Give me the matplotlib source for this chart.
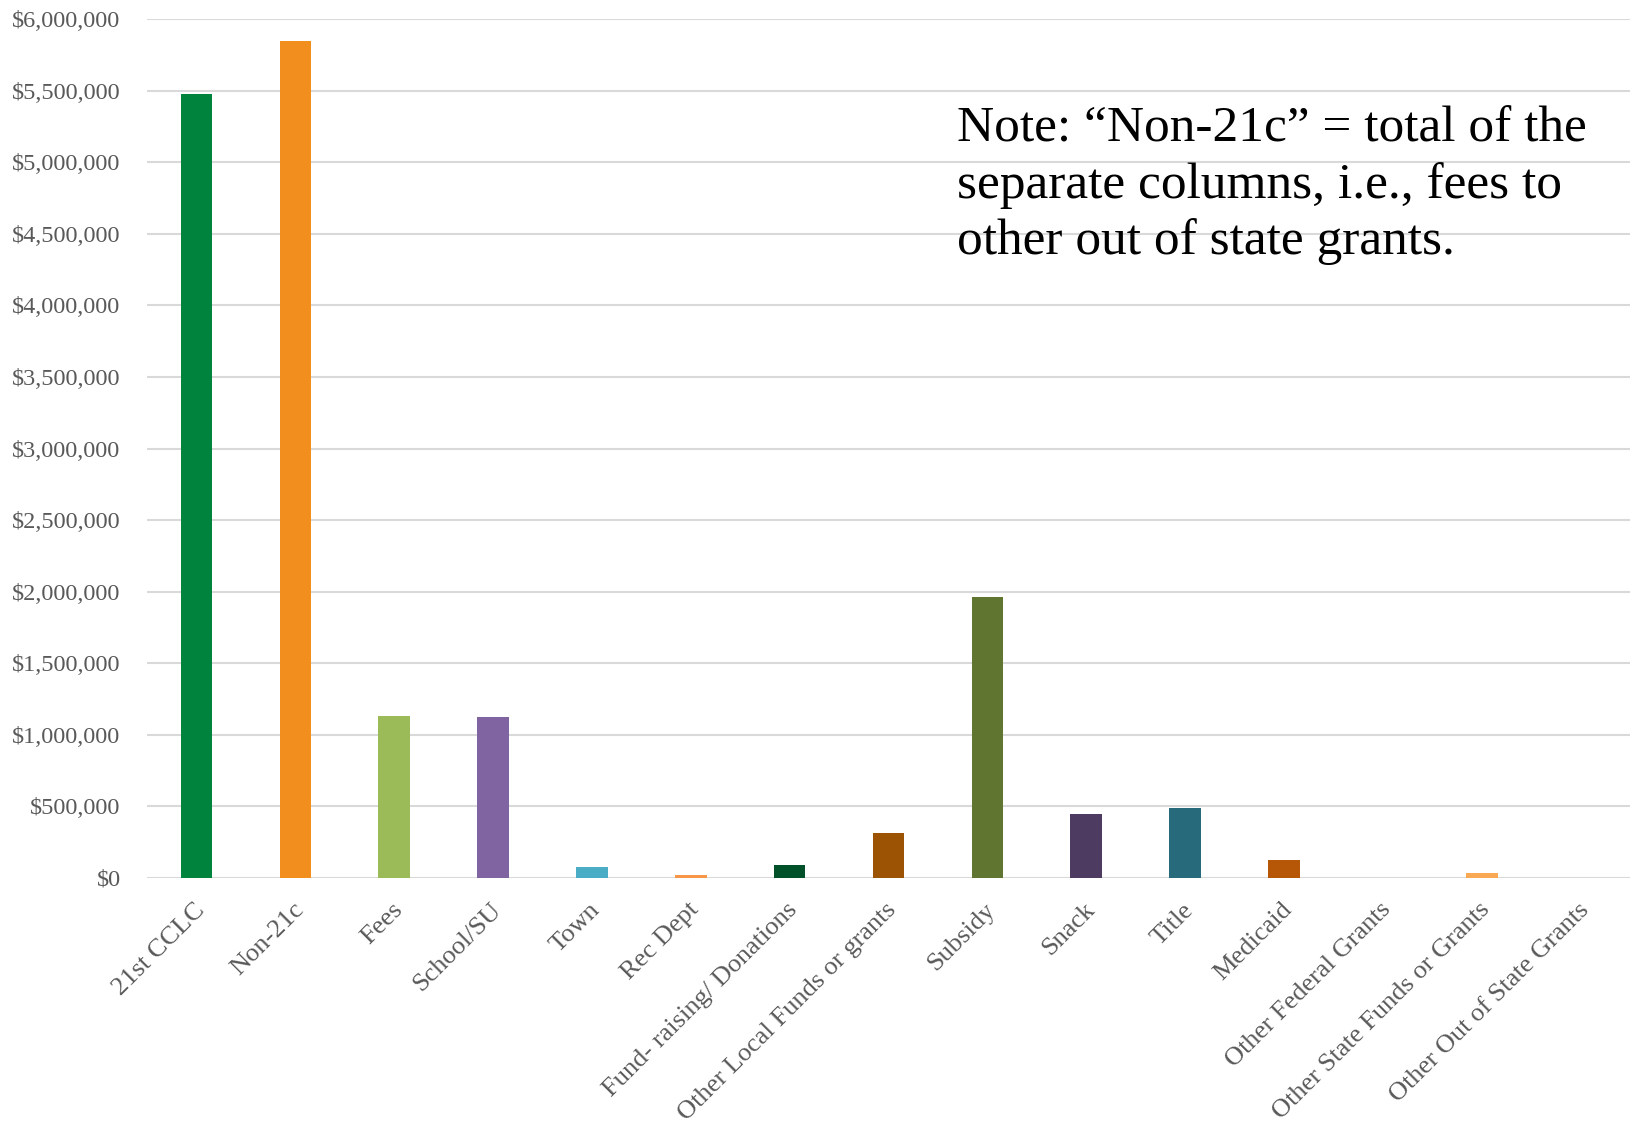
#!/usr/bin/env python3
"""Funding sources bar chart: 21st CCLC vs non-21c and the separate columns."""

import matplotlib

matplotlib.use("Agg")
import matplotlib.pyplot as plt
import matplotlib.transforms as mtransforms
from matplotlib.ticker import FuncFormatter, MultipleLocator

categories = [
    "21st CCLC",
    "Non-21c",
    "Fees",
    "School/SU",
    "Town",
    "Rec Dept",
    "Fund- raising/ Donations",
    "Other Local Funds or grants",
    "Subsidy",
    "Snack",
    "Title",
    "Medicaid",
    "Other Federal Grants",
    "Other State Funds or Grants",
    "Other Out of State Grants",
]
amounts = [
    5475000, 5846000, 1130000, 1124000, 77000, 21000, 91000, 317000,
    1964000, 447000, 491000, 126000, 0, 35000, 0,
]
bar_colors = [
    "#00843D", "#F28E1E", "#9BBB59", "#8064A2", "#4BACC6", "#F79646",
    "#00502A", "#9C5404", "#5F7530", "#4D3B62", "#276A7C", "#B65708",
    "#7F6084", "#F9A953", "#2C4D75",
]
note = "Note: \u201cNon-21c\u201d = total of the\nseparate columns, i.e., fees to\nother out of state grants."

FONT = ["Liberation Serif", "DejaVu Serif"]
GRAY = "#595959"

plt.rcParams["font.family"] = FONT

fig = plt.figure(figsize=(16.3, 11.24), dpi=100)
ax = fig.add_axes([0.0902, 0.2189, 0.9098, 0.7641])

x = list(range(len(categories)))
ax.bar(x, amounts, width=0.32, color=bar_colors, zorder=3)

ax.set_xlim(-0.5, len(categories) - 0.5)
ax.set_ylim(0, 6000000)
ax.yaxis.set_major_locator(MultipleLocator(500000))
ax.yaxis.set_major_formatter(FuncFormatter(lambda v, _: f"${v:,.0f}"))
ax.grid(axis="y", color="#D9D9D9", linewidth=1.5, zorder=0)
ax.set_axisbelow(True)
for side in ("top", "right", "left", "bottom"):
    ax.spines[side].set_visible(False)
ax.axhline(0, color="#D9D9D9", linewidth=1.8, zorder=2)

ax.tick_params(axis="y", length=0, pad=19, labelsize=17.5, labelcolor=GRAY)
ax.tick_params(axis="x", length=0, pad=15, labelsize=19, labelcolor=GRAY)
ax.set_xticks(x)
ax.set_xticklabels(categories, rotation=45, ha="right", va="top",
                   rotation_mode="anchor")
shift = mtransforms.ScaledTranslation(-3 / 100, 0, fig.dpi_scale_trans)
for lbl in ax.get_xticklabels():
    lbl.set_transform(lbl.get_transform() + shift)

fig.text(957 / 1630, 1 - 106 / 1124, note, ha="left", va="top",
         fontsize=37, color="black", linespacing=1.26)

fig.savefig("out.png", dpi=100)
